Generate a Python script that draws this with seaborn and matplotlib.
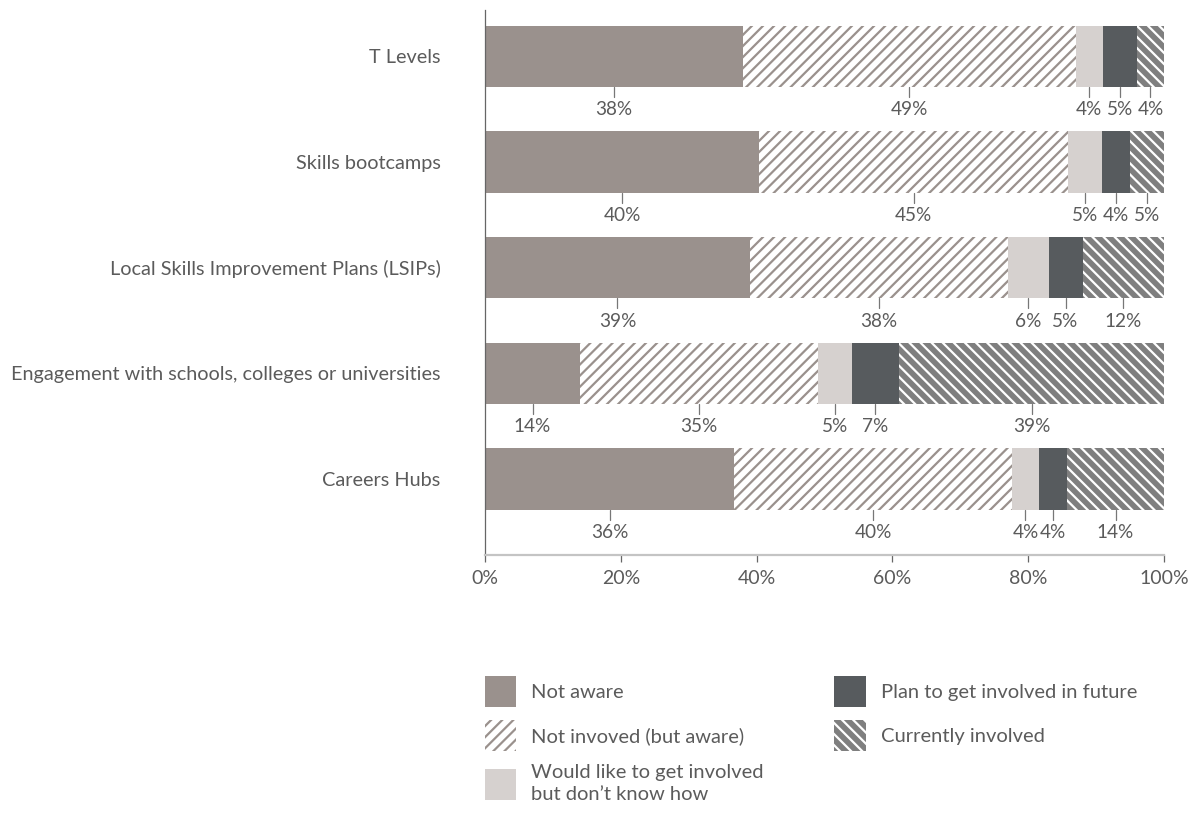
import numpy as np
import pandas as pd
import matplotlib
matplotlib.use("Agg")
import matplotlib.pyplot as plt
import seaborn as sns
from matplotlib.patches import Patch

categories = ["T Levels", "Skills bootcamps", "Local Skills Improvement Plans (LSIPs)",
              "Engagement with schools, colleges or universities", "Careers Hubs"]
series_names = ["Not aware", "Not invoved (but aware)",
                "Would like to get involved\nbut don\u2019t know how",
                "Plan to get involved in future", "Currently involved"]
not_aware = [38, 40, 39, 14, 36]
not_involved = [49, 45, 38, 35, 40]
would_like = [4, 5, 6, 5, 4]
plan_future = [5, 4, 5, 7, 4]
currently = [4, 5, 12, 39, 14]
x_ticks = [0, 20, 40, 60, 80, 100]

sns.set_theme(style="white")
plt.rcParams["font.family"] = ["Lato", "DejaVu Sans"]
plt.rcParams["hatch.linewidth"] = 1.6

text_col = "#5b5b5b"
styles = [
    dict(color="#9a918d", hatch=None, edgecolor="#9a918d"),
    dict(color="white", hatch="///", edgecolor="#9a918d"),
    dict(color="#d6d1cf", hatch=None, edgecolor="#d6d1cf"),
    dict(color="#575b5e", hatch=None, edgecolor="#575b5e"),
    dict(color="#7f7f7f", hatch="\\\\\\", edgecolor="white"),
]

df = pd.DataFrame({"category": categories, "s0": not_aware, "s1": not_involved,
                   "s2": would_like, "s3": plan_future, "s4": currently})
cols = ["s0", "s1", "s2", "s3", "s4"]
# bars are drawn to 100% so scale the rounded percentages
share = df[cols].div(df[cols].sum(axis=1), axis=0) * 100
cum = share.cumsum(axis=1)

fig = plt.figure(figsize=(11.92, 8.16), dpi=100)
ax = fig.add_axes([485 / 1192, 1 - 555 / 816, 679 / 1192, 545 / 816])

bar_h = 0.58
# overlay cumulative bars, widest first
for i in range(4, -1, -1):
    st = styles[i]
    sns.barplot(x=cum[cols[i]], y=df["category"], orient="h", color=st["color"],
                saturation=1, width=bar_h, ax=ax, hatch=st["hatch"],
                edgecolor=st["edgecolor"], linewidth=0)

for r in range(len(categories)):
    left = 0
    for i, c in enumerate(cols):
        w = share.loc[r, c]
        mid = left + w / 2
        y0 = r + bar_h / 2
        ax.plot([mid, mid], [y0, y0 + 0.095], color="#777777", lw=0.9, zorder=1,
                clip_on=False)
        ax.text(mid, y0 + 0.215, f"{df.loc[r, c]}%", ha="center", va="center",
                fontsize=13.7, color=text_col)
        left += w

ax.set_xlim(0, 100)
ax.set_ylim(4.72, -0.44)
ax.set_xticks(x_ticks)
ax.set_xticklabels([f"{t}%" for t in x_ticks], fontsize=14, color=text_col)
ax.tick_params(axis="x", length=5, width=0.9, color="#666666", pad=6, bottom=True)
ax.tick_params(axis="y", length=0, pad=32, labelsize=14.3, labelcolor=text_col)
ax.set_xlabel("")
ax.set_ylabel("")
for s in ["top", "right"]:
    ax.spines[s].set_visible(False)
ax.spines["left"].set_color("#666666")
ax.spines["left"].set_linewidth(0.9)
ax.spines["bottom"].set_color("#c4c4c4")
ax.spines["bottom"].set_linewidth(1.6)

handles = [Patch(facecolor=st["color"], edgecolor=st["edgecolor"], hatch=st["hatch"],
                 linewidth=0) for st in styles]
leg = fig.legend(handles, series_names, loc="upper left",
                 bbox_to_anchor=(485 / 1192, 1 - 676 / 816), ncol=2, frameon=False,
                 borderpad=0, borderaxespad=0,
                 handlelength=1.55, handleheight=2.0, handletextpad=0.75,
                 columnspacing=3.5, labelspacing=0.65, fontsize=14.5, labelcolor=text_col)
for t in leg.get_texts():
    t.set_linespacing(1.35)

fig.savefig("out.png", dpi=100)
